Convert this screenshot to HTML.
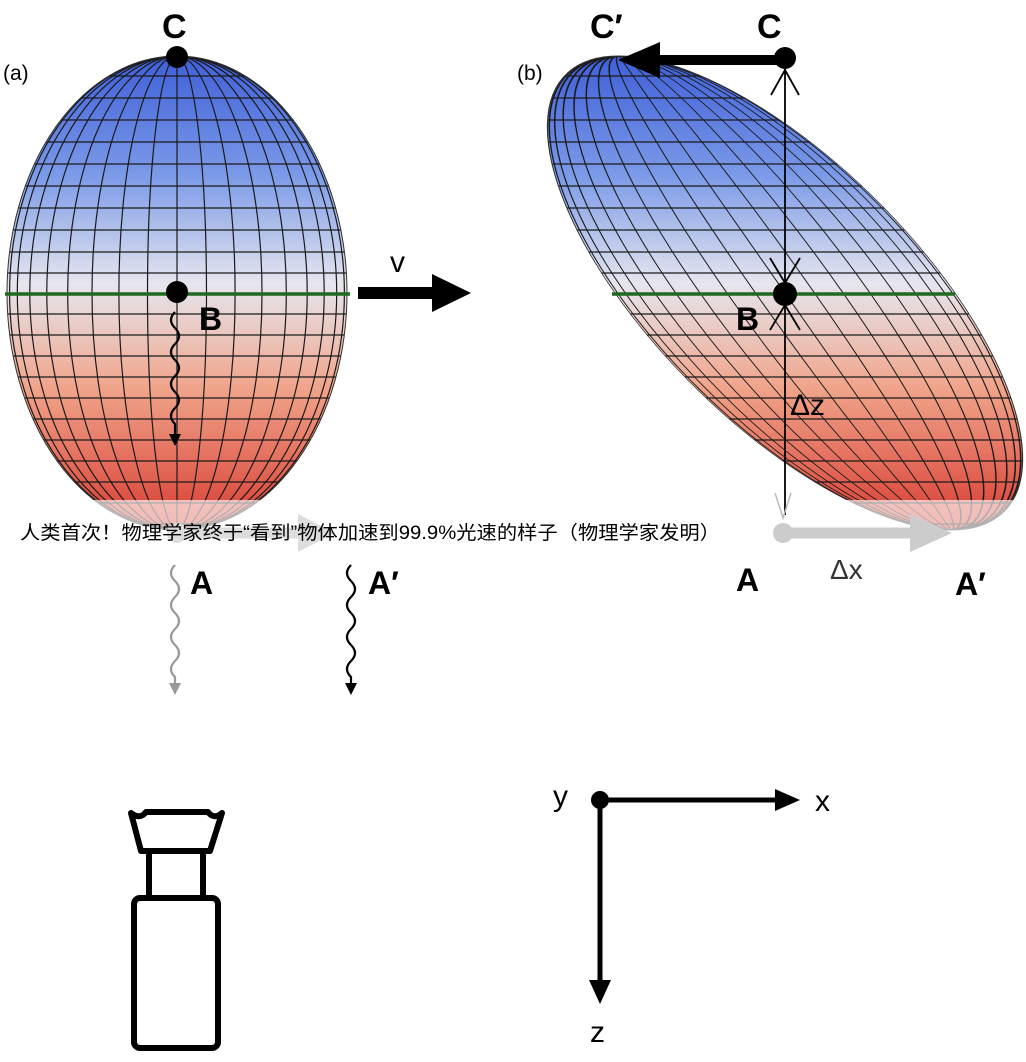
<!DOCTYPE html>
<html><head><meta charset="utf-8"><style>
html,body{margin:0;padding:0;background:#fff;}
svg{display:block;}
text{font-family:"Liberation Sans","DejaVu Sans",sans-serif;}
</style></head><body>
<svg width="1026" height="1062" viewBox="0 0 1026 1062" xmlns="http://www.w3.org/2000/svg">
<defs>
<linearGradient id="g" x1="0" y1="57" x2="0" y2="530" gradientUnits="userSpaceOnUse">
<stop offset="0" stop-color="#3f5fd8"/>
<stop offset="0.25" stop-color="#7b9ae8"/>
<stop offset="0.48" stop-color="#e6e6ee"/>
<stop offset="0.7" stop-color="#f0a48a"/>
<stop offset="1" stop-color="#d83a30"/>
</linearGradient>
<clipPath id="c"><ellipse cx="177" cy="293" rx="170" ry="237"/></clipPath>
<g id="egg">
<ellipse cx="177" cy="293" rx="170" ry="237" fill="url(#g)"/>
<g clip-path="url(#c)" fill="none" stroke="#1a1a1a" stroke-width="1.2">
<line x1="177" y1="50" x2="177" y2="540"/>
<ellipse cx="177" cy="293" rx="29.5" ry="237"/>
<ellipse cx="177" cy="293" rx="58.1" ry="237"/>
<ellipse cx="177" cy="293" rx="85" ry="237"/>
<ellipse cx="177" cy="293" rx="109.3" ry="237"/>
<ellipse cx="177" cy="293" rx="130.2" ry="237"/>
<ellipse cx="177" cy="293" rx="147.2" ry="237"/>
<ellipse cx="177" cy="293" rx="159.7" ry="237"/>
<ellipse cx="177" cy="293" rx="167.4" ry="237"/>
<path d="M0 76H360M0 98H360M0 120H360M0 142H360M0 164H360M0 186H360M0 208H360M0 230H360M0 252H360M0 273H360M0 314H360M0 335H360M0 356H360M0 377H360M0 398H360M0 419H360M0 440H360M0 461H360M0 482H360M0 503H360M0 524H360"/>
</g>
<ellipse cx="177" cy="293" rx="170" ry="237" fill="none" stroke="#333" stroke-width="1"/>
</g>
</defs>

<!-- LEFT -->
<use href="#egg"/>
<rect x="0" y="500" width="360" height="40" fill="#fff" opacity="0.65"/>
<line x1="5" y1="294" x2="350" y2="294" stroke="#1e6a1e" stroke-width="3.5"/>
<circle cx="177" cy="57" r="11"/>
<circle cx="177" cy="292" r="11"/>
<text x="162" y="38" font-size="34" font-weight="bold">C</text>
<text x="3" y="80" font-size="21">(a)</text>
<text x="199" y="330" font-size="32" font-weight="bold">B</text>
<path d="M175 312 q-8 8 0 16 q8 8 0 16 q-8 8 0 16 q8 8 0 16 q-8 8 0 16 q8 8 0 16 q-8 8 0 16 l0 10" fill="none" stroke="#000" stroke-width="2.2"/>
<path d="M169 434 L181 434 L175 446Z"/>
<circle cx="177" cy="533" r="10" fill="#ddd"/>
<line x1="177" y1="533" x2="300" y2="533" stroke="#ddd" stroke-width="11"/>
<path d="M298 514 L335 533 L298 552Z" fill="#ddd"/>
<text x="390" y="272" font-size="30">v</text>
<line x1="358" y1="293" x2="435" y2="293" stroke="#000" stroke-width="12"/>
<path d="M432 274 L471 293 L432 312Z"/>
<path d="M175 565 q-8 8 0 16 q8 8 0 16 q-8 8 0 16 q8 8 0 16 q-8 8 0 16 q8 8 0 16 q-8 8 0 16 l0 8" fill="none" stroke="#999" stroke-width="2.2"/>
<path d="M169 683 L181 683 L175 695Z" fill="#999"/>
<text x="190" y="594" font-size="32" font-weight="bold">A</text>
<path d="M351 565 q-8 8 0 16 q8 8 0 16 q-8 8 0 16 q8 8 0 16 q-8 8 0 16 q8 8 0 16 q-8 8 0 16 l0 8" fill="none" stroke="#000" stroke-width="2.2"/>
<path d="M345 683 L357 683 L351 695Z"/>
<text x="368" y="594" font-size="32" font-weight="bold">A′</text>

<!-- RIGHT -->
<use href="#egg" transform="translate(785,293) skewX(35) translate(-177,-293)"/>
<rect x="770" y="500" width="256" height="40" fill="#fff" opacity="0.65"/>
<line x1="612" y1="294" x2="955" y2="294" stroke="#1e6a1e" stroke-width="3.5"/>
<text x="517" y="80" font-size="21">(b)</text>
<line x1="785" y1="57" x2="785" y2="515" stroke="#000" stroke-width="1.8"/>
<path d="M771 95 L785 70 L799 95" fill="none" stroke="#000" stroke-width="1.8"/>
<path d="M770 258 L785 283 L800 258 M770 330 L785 305 L800 330" fill="none" stroke="#000" stroke-width="1.8"/>
<path d="M775 493 L783 518 L791 493" fill="none" stroke="#bbb" stroke-width="1.5"/>
<line x1="785" y1="60" x2="655" y2="60" stroke="#000" stroke-width="10"/>
<path d="M660 42 L618 60 L660 78Z"/>
<circle cx="785" cy="58" r="11"/>
<circle cx="785" cy="294" r="12"/>
<text x="757" y="38" font-size="34" font-weight="bold">C</text>
<text x="590" y="38" font-size="34" font-weight="bold">C′</text>
<text x="736" y="330" font-size="32" font-weight="bold">B</text>
<text x="790" y="415" font-size="30">Δz</text>
<circle cx="783" cy="533" r="10" fill="#ccc"/>
<line x1="783" y1="533" x2="915" y2="533" stroke="#ccc" stroke-width="11"/>
<path d="M910 514 L952 533 L910 552Z" fill="#ccc"/>
<text x="736" y="591" font-size="32" font-weight="bold">A</text>
<text x="830" y="579" font-size="28" fill="#333">Δx</text>
<text x="955" y="595" font-size="32" font-weight="bold">A′</text>

<!-- caption -->
<text x="20" y="539" font-size="19" textLength="700" lengthAdjust="spacingAndGlyphs" font-family="'WenQuanYi Zen Hei','Noto Sans CJK SC',sans-serif">人类首次！物理学家终于“看到”物体加速到99.9%光速的样子（物理学家发明）</text>

<!-- camera -->
<g fill="none" stroke="#000" stroke-width="6" stroke-linejoin="round">
<path d="M131 813 Q140 820 146 812 L208 812 Q214 820 222 813 L210 851 L141 851 Z"/>
<path d="M149 851 L149 898 M203 851 L203 898"/>
<rect x="134" y="898" width="84" height="150" rx="6"/>
</g>

<!-- axes -->
<circle cx="600" cy="800" r="9"/>
<line x1="600" y1="800" x2="780" y2="800" stroke="#000" stroke-width="5"/>
<path d="M775 789 L800 800 L775 811Z"/>
<line x1="600" y1="800" x2="600" y2="985" stroke="#000" stroke-width="5"/>
<path d="M589 980 L600 1004 L611 980Z"/>
<text x="553" y="806" font-size="30">y</text>
<text x="815" y="811" font-size="30">x</text>
<text x="590" y="1042" font-size="30">z</text>
</svg>
</body></html>
